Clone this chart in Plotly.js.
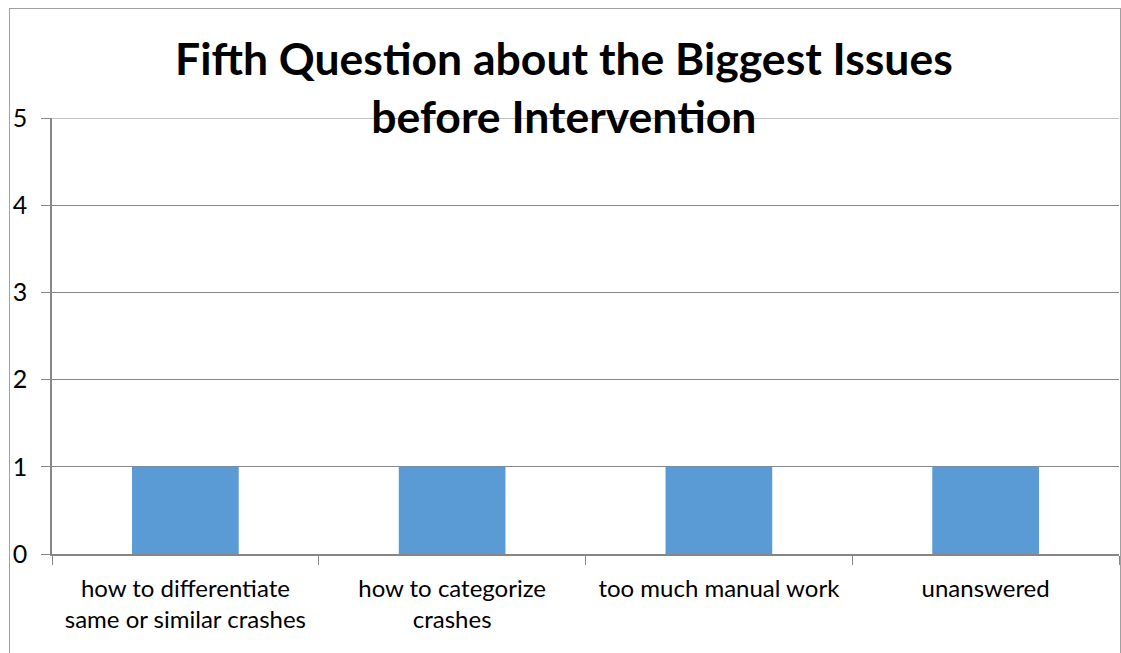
<!DOCTYPE html>
<html>
<head>
<meta charset="utf-8">
<script src="https://cdn.plot.ly/plotly-3.0.1.min.js"></script>
<style>
  html, body { margin: 0; padding: 0; background: #fff; }
  #wrap { position: relative; width: 1121px; height: 653px; overflow: hidden; }
  #chart { position: absolute; left: 0; top: 0; width: 1121px; height: 653px; }
  #frame { position: absolute; left: 9px; top: 8px; width: 1110px; height: 700px;
           border: 1px solid #a0a0a0; pointer-events: none; }
</style>
</head>
<body>
<div id="wrap">
  <div id="chart"></div>
  <div id="frame"></div>
</div>
<script>
const categories = [
  "how to differentiate<br>same or similar crashes",
  "how to categorize<br>crashes",
  "too much manual work",
  "unanswered"
];
const counts = [1, 1, 1, 1];
const yTicks = [0, 1, 2, 3, 4, 5];
const titleText = "Fifth Question about the Biggest Issues<br>before Intervention";

const trace = {
  type: 'bar',
  x: categories,
  y: counts,
  width: 0.4,
  marker: { color: '#5B9BD5' },
  hoverinfo: 'x+y'
};

const yMax = yTicks[yTicks.length - 1];

const layout = {
  width: 1121,
  height: 653,
  margin: { l: 52, r: 2, t: 118, b: 99, pad: 0 },
  paper_bgcolor: 'rgba(0,0,0,0)',
  plot_bgcolor: '#ffffff',
  showlegend: false,
  font: { family: 'Lato, "Open Sans", sans-serif', color: '#000000', size: 24 },
  title: {
    text: titleText,
    font: { family: 'Lato, "Open Sans", sans-serif', size: 44.5, color: '#000000', weight: 'bold' },
    xref: 'container', yref: 'container',
    x: 0.503, xanchor: 'center',
    y: 0.885, yanchor: 'middle'
  },
  xaxis: {
    type: 'category',
    showgrid: false,
    showline: true,
    linecolor: '#868686',
    linewidth: 1.5,
    ticks: 'outside',
    ticklen: 9,
    tickcolor: '#868686',
    tickson: 'boundaries',
    tickfont: { family: 'Lato, "Open Sans", sans-serif', size: 24, color: '#000000' },
    ticklabelstandoff: 12,
    zeroline: false
  },
  yaxis: {
    range: [0, yMax],
    tickvals: yTicks,
    ticktext: yTicks.map(String),
    showgrid: true,
    gridcolor: '#868686',
    gridwidth: 1,
    showline: true,
    linecolor: '#868686',
    linewidth: 1.5,
    ticks: 'outside',
    ticklen: 9,
    tickcolor: '#868686',
    tickfont: { family: 'Lato, "Open Sans", sans-serif', size: 25, color: '#000000' },
    ticklabelstandoff: 9,
    zeroline: false
  },
  shapes: [{
    type: 'line', xref: 'paper', yref: 'y',
    x0: 0, x1: 1, y0: yMax, y1: yMax,
    line: { color: '#868686', width: 1 }, layer: 'below'
  }]
};

Plotly.newPlot('chart', [trace], layout, { displayModeBar: false });
</script>
</body>
</html>
